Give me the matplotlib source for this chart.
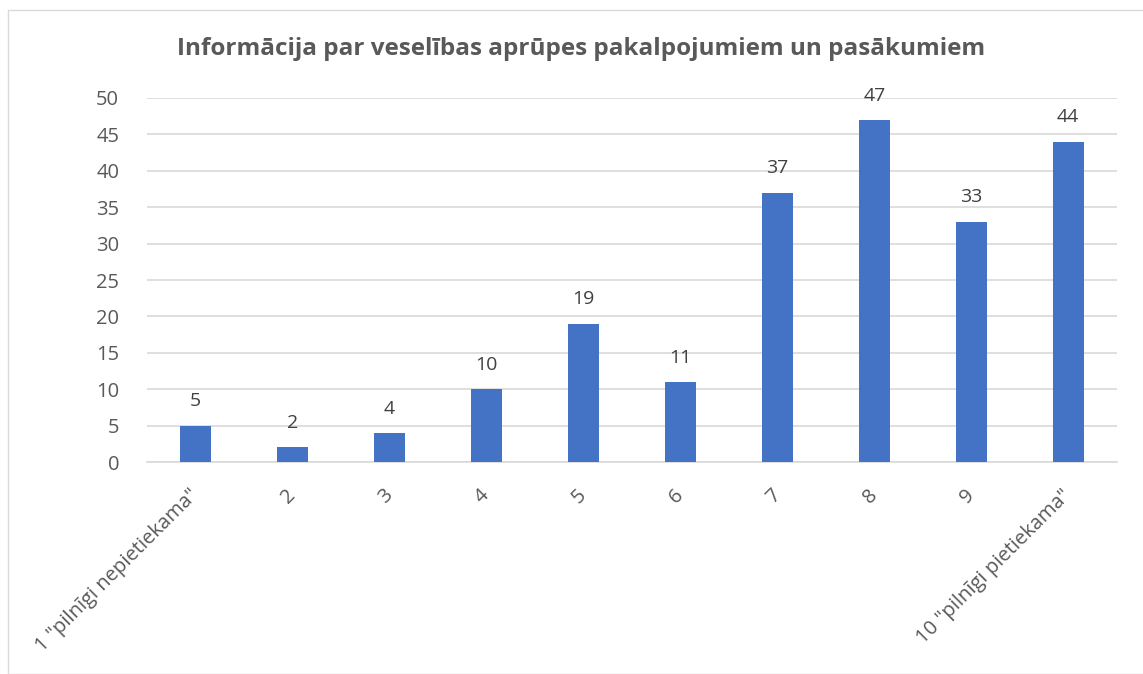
import matplotlib.pyplot as plt
from matplotlib.patches import Rectangle

# dati
categories = ['1 "pilnīgi nepietiekama"', '2', '3', '4', '5', '6', '7', '8', '9',
              '10 "pilnīgi pietiekama"']
values = [5, 2, 4, 10, 19, 11, 37, 47, 33, 44]
yticks = [0, 5, 10, 15, 20, 25, 30, 35, 40, 45, 50]

plt.rcParams['font.family'] = ['Open Sans', 'DejaVu Sans']
text_color = '#595959'
bar_color = '#4472C4'
grid_color = '#D9D9D9'

fig = plt.figure(figsize=(11.43, 6.74), dpi=100)
ax = fig.add_axes([0.1286, 0.3145, 0.8484, 0.5401])

x = list(range(len(categories)))
bars = ax.bar(x, values, width=0.32, color=bar_color, zorder=3)
ax.bar_label(bars, labels=[str(v) for v in values], padding=11,
             fontsize=14, color='#404040')

ax.set_xlim(-0.5, len(categories) - 0.5)
ax.set_ylim(0, 50)
ax.set_yticks(yticks)
ax.yaxis.grid(True, color=grid_color, linewidth=1.2, zorder=0)
ax.set_xticks(x)
ax.set_xticklabels(categories, rotation=45, ha='right', va='center',
                   rotation_mode='anchor', fontsize=14.5, color=text_color)
ax.tick_params(axis='y', labelsize=14.5, labelcolor=text_color, length=0, pad=20)
ax.tick_params(axis='x', length=0, pad=22)
for side in ['left', 'right', 'top']:
    ax.spines[side].set_visible(False)
ax.spines['bottom'].set_color(grid_color)
ax.spines['bottom'].set_linewidth(1.2)

fig.text(0.508, 0.928, 'Informācija par veselības aprūpes pakalpojumiem un pasākumiem',
         ha='center', va='center', fontsize=17.5, fontweight='bold', color=text_color)

# rāmis ap diagrammu
fig.patches.append(Rectangle((8 / 1143, 0), 1.2, 1 - 10 / 674,
                             transform=fig.transFigure, fill=False,
                             edgecolor=grid_color, linewidth=1))

fig.savefig('out.png', dpi=100)
